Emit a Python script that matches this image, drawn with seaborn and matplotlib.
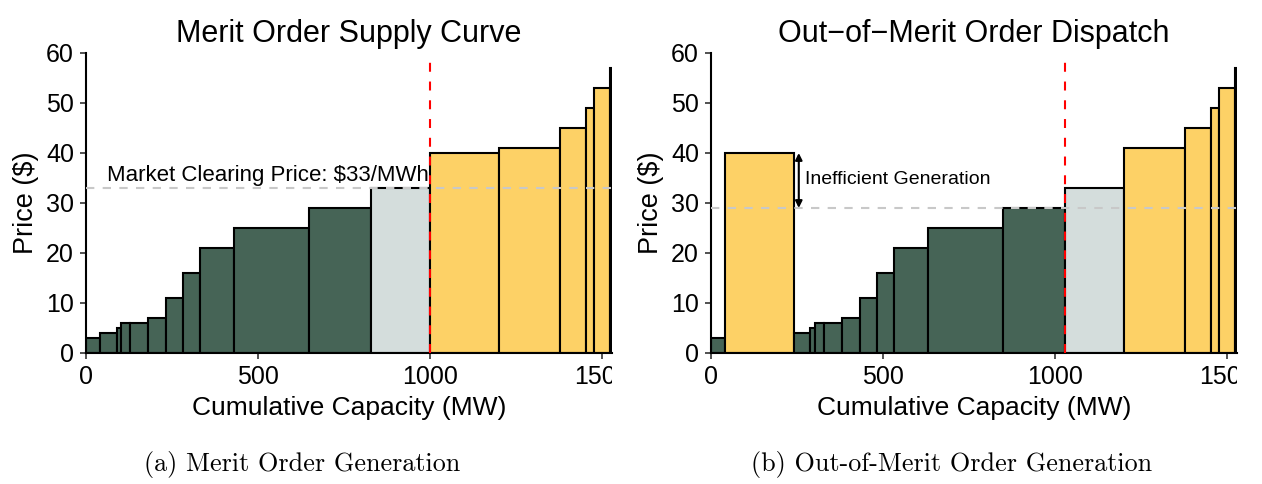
import numpy as np
import matplotlib
matplotlib.use("Agg")
import matplotlib.pyplot as plt
from matplotlib.transforms import Bbox, TransformedBbox
import seaborn as sns

# ---- data ----
# merit order (left panel)
widths_a = [41, 48, 14, 26, 52, 51, 49, 50, 99, 219, 180, 171, 200, 177, 76, 24, 44, 8]
prices_a = [3, 4, 5, 6, 6, 7, 11, 16, 21, 25, 29, 33, 40, 41, 45, 49, 53, 57]
kind_a = ["on"] * 11 + ["marg"] + ["off"] * 6

# out-of-merit dispatch (right panel)
widths_b = [41, 200, 48, 14, 26, 52, 51, 49, 50, 99, 219, 180, 171, 177, 76, 24, 44, 8]
prices_b = [3, 40, 4, 5, 6, 6, 7, 11, 16, 21, 25, 29, 33, 41, 45, 49, 53, 57]
kind_b = ["on", "off"] + ["on"] * 10 + ["marg"] + ["off"] * 5

clearing_a = 33
clearing_b = 29
demand_a = 1000
demand_b = 1029
xticks = [0, 500, 1000, 1500]
yticks = [0, 10, 20, 30, 40, 50, 60]
titles = ["Merit Order Supply Curve", "Out\u2212of\u2212Merit Order Dispatch"]
captions = ["(a) Merit Order Generation", "(b) Out-of-Merit Order Generation"]

palette = {"on": "#466456", "marg": "#D4DDDC", "off": "#FDD166"}

sns.set_theme(style="ticks")
plt.rcParams["font.family"] = ["Liberation Sans", "DejaVu Sans"]
plt.rcParams["text.color"] = "black"
plt.rcParams["axes.labelcolor"] = "black"
plt.rcParams["axes.titlecolor"] = "black"

fig = plt.figure(figsize=(12.62, 4.84), dpi=100)
W, H = 1262, 484
axA = fig.add_axes([86 / W, (H - 353) / H, 526 / W, 300 / H])
axB = fig.add_axes([711 / W, (H - 353) / H, 526 / W, 300 / H])


def draw(ax, widths, prices, kinds, clearing, demand, title, caption_x, caption):
    lefts = np.concatenate([[0], np.cumsum(widths)[:-1]])
    colors = [palette[k] for k in kinds]
    ax.bar(lefts, prices, width=widths, align="edge", color=colors,
           edgecolor="black", linewidth=1.5, zorder=2)
    ax.axhline(clearing, color="#C8C8C8", linestyle=(0, (4, 4)), linewidth=1.5, zorder=3)
    ax.vlines(demand, 0, 58.3, color="#FF0000", linestyle=(0, (4.3, 4.7)), linewidth=1.5, zorder=4)
    ax.set_xlim(0, 1528)
    ax.set_ylim(0, 60)
    ax.set_xticks(xticks)
    ax.set_yticks(yticks)
    ax.tick_params(axis="both", labelsize=18, length=4.2, width=1.2, color="#333333",
                   labelcolor="black")
    ax.tick_params(axis="x", pad=4.5)
    ax.tick_params(axis="y", pad=4.5)
    for s in ["left", "bottom"]:
        ax.spines[s].set_linewidth(1.5)
        ax.spines[s].set_color("black")
    sns.despine(ax=ax)
    ax.set_title(title, fontsize=22, pad=8, color="black")
    ax.set_xlabel("Cumulative Capacity (MW)", fontsize=19, labelpad=5)
    ax.set_ylabel("Price (\\$)", fontsize=19.5, labelpad=5)
    clip = TransformedBbox(Bbox.from_extents(-0.2, -0.6, 1.0, 1.2), ax.transAxes)
    for t in ax.xaxis.get_major_ticks():
        t.label1.set_clip_box(clip)
        t.label1.set_clip_on(True)
    fig.text(caption_x, (H - 465) / H, caption, family="cmr10", fontsize=18.8,
             ha="center", va="center", color="black")


draw(axA, widths_a, prices_a, kind_a, clearing_a, demand_a, titles[0], 302 / W, captions[0])
draw(axB, widths_b, prices_b, kind_b, clearing_b, demand_b, titles[1], 952 / W, captions[1])

axA.text(61, 34.3, "Market Clearing Price: \\$33/MWh", fontsize=16, ha="left",
         va="baseline", zorder=5)

axB.annotate("", xy=(255, 40), xytext=(255, 29),
             arrowprops=dict(arrowstyle="<|-|>", color="black", lw=1.5,
                             mutation_scale=10, shrinkA=0, shrinkB=0), zorder=5)
axB.text(272, 34.8, "Inefficient Generation", fontsize=14, ha="left", va="center", zorder=5)

fig.savefig("out.png", dpi=100)
